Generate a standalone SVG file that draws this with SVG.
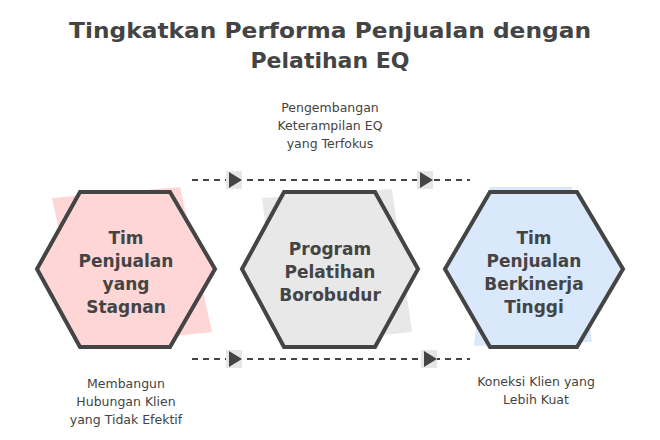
<svg xmlns="http://www.w3.org/2000/svg" width="660" height="440" viewBox="0 0 660 440">
<style>
.title{font-family:"DejaVu Sans","Liberation Sans",sans-serif;font-weight:bold;font-size:22px;fill:#444;text-anchor:middle}
.node{font-family:"DejaVu Sans","Liberation Sans",sans-serif;font-weight:bold;font-size:17px;fill:#444;text-anchor:middle}
.lbl{font-family:"DejaVu Sans","Liberation Sans",sans-serif;font-size:12.5px;fill:#444;text-anchor:middle}
.hex{stroke:#444;stroke-width:4;stroke-linejoin:miter}
.conn{stroke:#444;stroke-width:2;stroke-dasharray:6 5;fill:none}
.arr{fill:#444}
.arrbg{fill:#e6e6e6}
</style>
<rect width="660" height="440" fill="#fff"/>
<text class="title" x="330" y="38" textLength="522" lengthAdjust="spacingAndGlyphs">Tingkatkan Performa Penjualan dengan</text>
<text class="title" x="330" y="68">Pelatihan EQ</text>
<g id="connectors">
<line class="conn" x1="192" y1="180" x2="470" y2="180"/>
<line class="conn" x1="192" y1="359" x2="470" y2="359"/>
<rect class="arrbg" x="226" y="171" width="16" height="18"/>
<polygon class="arr" points="229,172 242,180 229,188"/>
<rect class="arrbg" x="417" y="171" width="16" height="18"/>
<polygon class="arr" points="420,172 433,180 420,188"/>
<rect class="arrbg" x="226" y="350" width="16" height="18"/>
<polygon class="arr" points="229,351 242,359 229,367"/>
<rect class="arrbg" x="421" y="350" width="16" height="18"/>
<polygon class="arr" points="424,351 437,359 424,367"/>
</g>
<g id="label-top">
<text class="lbl" x="330" y="112">Pengembangan</text>
<text class="lbl" x="330" y="130">Keterampilan EQ</text>
<text class="lbl" x="330" y="148">yang Terfokus</text>
</g>
<g id="label-bottom-left">
<text class="lbl" x="126" y="388">Membangun</text>
<text class="lbl" x="126" y="406">Hubungan Klien</text>
<text class="lbl" x="126" y="424">yang Tidak Efektif</text>
</g>
<g id="label-bottom-right">
<text class="lbl" x="536" y="386">Koneksi Klien yang</text>
<text class="lbl" x="536" y="404">Lebih Kuat</text>
</g>
<g id="node-stagnan">
<polygon fill="#ffd6d6" points="52,198 180,187 212,332 84,346"/>
<polygon class="hex" fill="#ffd6d6" points="80,192 170,192 215,269 170,347 80,347 37,269"/>
<text class="node" x="126" y="244">Tim</text>
<text class="node" x="126" y="267">Penjualan</text>
<text class="node" x="126" y="290">yang</text>
<text class="node" x="126" y="313">Stagnan</text>
</g>
<g id="node-program">
<polygon fill="#e8e8e8" points="262,198 392,189 412,332 280,346"/>
<polygon class="hex" fill="#e8e8e8" points="284,192 375,192 418,269 375,347 284,347 242,269"/>
<text class="node" x="330" y="255">Program</text>
<text class="node" x="330" y="278">Pelatihan</text>
<text class="node" x="330" y="301">Borobudur</text>
</g>
<g id="node-tinggi">
<polygon fill="#dae8fc" points="490,187 572,187 592,342 474,346"/>
<polygon class="hex" fill="#dae8fc" points="490,192 577,192 623,269 577,347 490,347 445,269"/>
<text class="node" x="534" y="244">Tim</text>
<text class="node" x="534" y="267">Penjualan</text>
<text class="node" x="534" y="290">Berkinerja</text>
<text class="node" x="534" y="313">Tinggi</text>
</g>
</svg>
